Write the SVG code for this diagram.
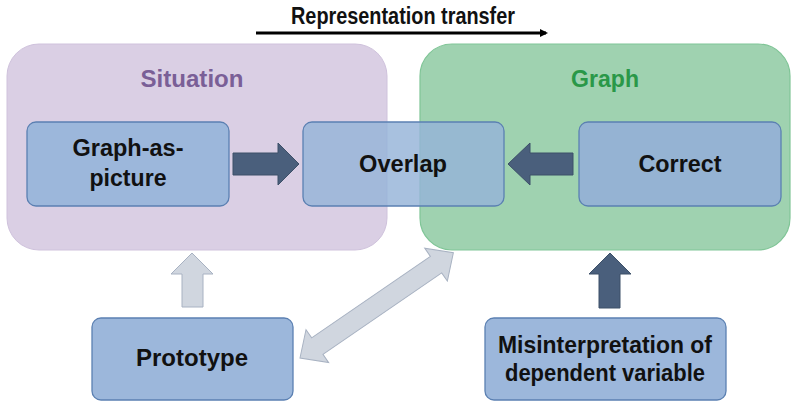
<svg xmlns="http://www.w3.org/2000/svg" width="792" height="401" viewBox="0 0 792 401">
<defs>
<style>
.node{fill:#9cb7db;stroke:#5b80b2;stroke-width:1.3}
.lbl{font-family:"Liberation Sans",Arial,sans-serif;font-weight:bold;font-size:23px;fill:#111;text-anchor:middle}
.ttl{font-family:"Liberation Sans",Arial,sans-serif;font-weight:bold;font-size:24px;text-anchor:middle}
.dark{fill:#4a5f7c;stroke:#3d5068;stroke-width:1}
.light{fill:#d0d6df;stroke:#a8b2c2;stroke-width:1}
</style>
<marker id="ah" markerWidth="8" markerHeight="8" refX="6" refY="4" orient="auto" markerUnits="userSpaceOnUse">
<path d="M0,0 L8,4 L0,8 Z" fill="#000"/>
</marker>
</defs>
<rect width="792" height="401" fill="#fff"/>
<g id="situation">
<rect x="7" y="44" width="380" height="206" rx="32" fill="#dacfe4" stroke="#cfc2dc" stroke-width="1"/>
<text class="ttl" x="192" y="87" fill="#7a5f97" textLength="103" lengthAdjust="spacingAndGlyphs">Situation</text>
</g>
<g id="graph">
<rect x="420" y="44" width="370" height="206" rx="32" fill="#9fd2b0" stroke="#80c597" stroke-width="1.2"/>
<text class="ttl" x="605" y="87" fill="#2a9848" textLength="68" lengthAdjust="spacingAndGlyphs">Graph</text>
</g>
<g id="transfer">
<text class="lbl" x="403" y="24" font-size="17" textLength="224" lengthAdjust="spacingAndGlyphs">Representation transfer</text>
<line x1="256" y1="33" x2="546" y2="33" stroke="#000" stroke-width="3" marker-end="url(#ah)"/>
</g>
<g id="connectors">
<polygon class="dark" points="233,153 278,153 278,143 299,164 278,185 278,175 233,175"/>
<polygon class="dark" points="573,153 530,153 530,143 508,164 530,185 530,175 573,175" fill="#425e77"/>
<polygon class="light" points="182,307 182,274 171,274 192,253 213,274 203,274 203,307"/>
<polygon class="dark" points="599,308 599,274 589,274 610,253 631,274 620,274 620,308"/>
<polygon class="light" transform="translate(300,358) rotate(-34.46)" points="0,0 21,-20 21,-10 165,-10 165,-20 186,0 165,20 165,10 21,10 21,20"/>
</g>
<g id="graph-as-picture">
<rect class="node" x="27" y="122" width="202" height="84" rx="9"/>
<text class="lbl" x="128" y="156" textLength="111" lengthAdjust="spacingAndGlyphs">Graph-as-</text>
<text class="lbl" x="128" y="186" textLength="77" lengthAdjust="spacingAndGlyphs">picture</text>
</g>
<g id="overlap">
<rect class="node" x="303" y="122" width="201" height="84" rx="9" fill-opacity="0.82" style="fill:#95b3d8"/>
<text class="lbl" x="403" y="172" textLength="88" lengthAdjust="spacingAndGlyphs">Overlap</text>
</g>
<g id="correct">
<rect class="node" x="579" y="122" width="202" height="84" rx="9" style="fill:#95b3d3"/>
<text class="lbl" x="680" y="172" textLength="83" lengthAdjust="spacingAndGlyphs">Correct</text>
</g>
<g id="prototype">
<rect class="node" x="92" y="318" width="201" height="82" rx="9"/>
<text class="lbl" x="192" y="366" textLength="112" lengthAdjust="spacingAndGlyphs">Prototype</text>
</g>
<g id="misinterpretation">
<rect class="node" x="485" y="318" width="241" height="82" rx="9"/>
<text class="lbl" x="605" y="353" textLength="214" lengthAdjust="spacingAndGlyphs">Misinterpretation of</text>
<text class="lbl" x="605" y="381" textLength="200" lengthAdjust="spacingAndGlyphs">dependent variable</text>
</g>
</svg>
